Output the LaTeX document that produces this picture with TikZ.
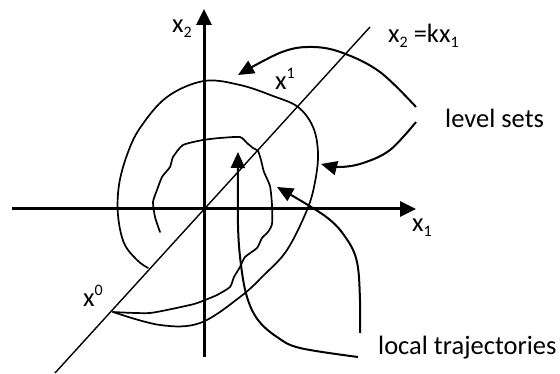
\documentclass[tikz,border=0pt]{standalone}
\usepackage{fontspec}
\setmainfont{Carlito}
\usetikzlibrary{arrows.meta}
\newcommand{\mysub}[1]{\raisebox{-5pt}{\fontsize{16}{16}\selectfont #1}}
\newcommand{\mysup}[1]{\raisebox{11pt}{\fontsize{16}{16}\selectfont #1}}
\begin{document}
\begin{tikzpicture}[x=1pt,y=-1pt,
  lbl/.style={anchor=base west,inner sep=0pt,font=\fontsize{26.5}{30}\selectfont},
  axis/.style={line width=3pt,-{Triangle[length=16pt,width=15pt]}},
  curve/.style={line width=1.7pt,line cap=round,line join=round},
  arr/.style={line width=2pt,-{Triangle[length=16pt,width=14pt]}},
  diag/.style={line width=1.4pt}]
\useasboundingbox (0,0) rectangle (560,374);
% axes
\coordinate (xl) at (12,209);
\coordinate (xr) at (416,209);
\coordinate (yb) at (204,357);
\coordinate (yt) at (204,9);
\draw[axis] (xl) -- (xr);
\draw[axis] (yb) -- (yt);
% diagonal
\coordinate (d0) at (55,373);
\coordinate (d1) at (370,27);
\draw[diag] (d0) -- (d1);
% outer level set
\draw[curve] plot[smooth,tension=0.6] coordinates {(148,268) (137,260) (124,243) (118,215) (119,185) (127,155) (140,128) (167,97) (204,81) (240,85) (273,96) (298,107) (313,127) (318,153) (315,182) (307,210) (287,250) (264,275) (240,297) (200,323) (160,325) (113,312)};
% inner wiggly level set
\draw[curve] plot[smooth,tension=0.35] coordinates {(160,232) (155,217) (153,202) (157,190) (162,177) (170,167) (173,157) (183,145) (203,140) (220,138) (240,137) (247,143) (253,148) (258,151) (261,160) (264,172) (270,186) (272,205) (272,224) (268,232) (262,238) (257,248) (245,257) (240,267) (234,277) (230,287) (217,295) (200,302) (190,305) (150,313) (113,312)};
% trajectory arrows
\coordinate (t1s) at (358,357);
\coordinate (t1e) at (238,152);
\draw[arr] plot[smooth,tension=0.6] coordinates {(t1s) (300,348) (277,337) (258,320) (247,297) (241,265) (238,225) (t1e)};
\coordinate (t2s) at (360,333);
\coordinate (t2e) at (277,187);
\draw[arr] plot[smooth,tension=0.6] coordinates {(t2s) (360,300) (357,262) (346,238) (325,216) (t2e)};
% level set arrows
\coordinate (a1s) at (416,107);
\coordinate (a1e) at (238,75);
\draw[arr] plot[smooth,tension=0.6] coordinates {(a1s) (380,72) (343,53) (313,47) (282,52) (a1e)};
\coordinate (a2s) at (416,122);
\coordinate (a2e) at (321,164);
\draw[arr] plot[smooth,tension=0.6] coordinates {(a2s) (390,150) (363,163) (340,167) (a2e)};
% labels
\node[lbl] (lx2) at (172,33) {x\mysub{2}};
\node[lbl] (lx1) at (412,232) {x\mysub{1}};
\node[lbl] (lk) at (388,43) {x\mysub{2} =kx\mysub{1}};
\node[lbl] (lsup1) at (275,90) {x\mysup{1}};
\node[lbl] (lsup0) at (83,307) {x\mysup{0}};
\node[lbl] (lev) at (445,128) {level sets};
\node[lbl] (loc) at (378,354) {local trajectories};
\end{tikzpicture}
\end{document}
